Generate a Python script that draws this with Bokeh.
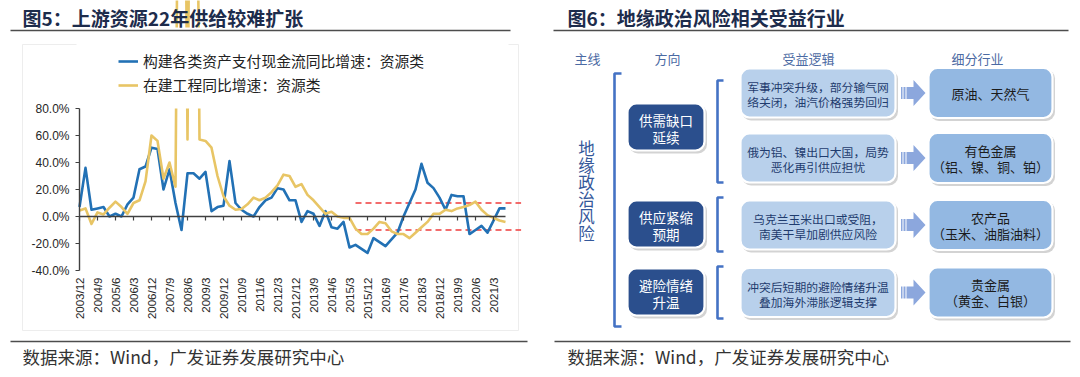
import numpy as np
from bokeh.plotting import figure
from bokeh.models import Range1d, LinearAxis, FixedTicker, Legend, LegendItem
from bokeh.core.properties import value
from bokeh.embed import file_html
from bokeh.resources import INLINE

CJK = "Noto Sans CJK SC"
LAT = "Liberation Sans"

# ---------------- data (left chart) ----------------
tick_labels = ["2003/12", "2004/9", "2005/6", "2006/3", "2006/12", "2007/9", "2008/6",
               "2009/3", "2009/12", "2010/9", "2011/6", "2012/3", "2012/12", "2013/9",
               "2014/6", "2015/3", "2015/12", "2016/9", "2017/6", "2018/3", "2018/12",
               "2019/9", "2020/6", "2021/3"]
tick_step = 3
series_cash = [7, 36, 5, 6, 7, 0, 2, 0, 9, 14, 35, 37, 51, 50, 20, 35, 10, -10, 32, 32,
               28, 33, 4, 7, 8, 41, 10, 5, 2, 0, 7, 12, 14, 21, 20, 12, 12, -4, 4, 2,
               -7, 4, -8, -9, -4, -23, -21, -24, -27, -16, -19, -22, -17, -12, 0, 10, 20, 39, 25, 21,
               14, 5, 16, 15, 15, -13, -10, -7, -12, -3, 6, 6]
series_cip = [4.5, 6, -5.5, 3, 1.5, 6.5, 11, 7, 2, 10, 12, 26, 60, 56, 28, 40, 22, 600, 57, 600,
              57, 56, 51, 30, 15, 8, 5, 5.5, 9, 14, 12, 14, 18, 23, 31, 30, 22, 24, 16, 12,
              7, 2, 3.5, 0, -1, -1, -9, -13, -13, -9, -4, -5, -11, -13, -13, -16, -12, -8, -4, 2,
              2, 5, 4, 6, 7, 8.5, 11, 5, 1, -1, -3, -4]
name_cash = "构建各类资产支付现金流同比增速：资源类"
name_cip = "在建工程同比增速：资源类"
band_levels = [10, -10]
band_start_index = 46  # 2015/6
y_ticks = [-40, -20, 0, 20, 40, 60, 80]
y_min, y_max = -40, 80

title5 = "图5：上游资源22年供给较难扩张"
title6 = "图6：地缘政治风险相关受益行业"
source_txt = "数据来源：Wind，广发证券发展研究中心"

# ---------------- data (right diagram) ----------------
headers = ["主线", "方向", "受益逻辑", "细分行业"]
mainline = "地缘政治风险"
directions = ["供需缺口\n延续", "供应紧缩\n预期", "避险情绪\n升温"]
logic = ["军事冲突升级，部分输气网\n络关闭，油汽价格强势回归",
         "俄为铝、镍出口大国，局势\n恶化再引供应担忧",
         "乌克兰玉米出口或受阻，\n南美干旱加剧供应风险",
         "冲突后短期的避险情绪升温\n叠加海外滞胀逻辑支撑"]
industries = ["原油、天然气", "有色金属\n（铝、镍、铜、铂）", "农产品\n（玉米、油脂油料）", "贵金属\n（黄金、白银）"]

# ---------------- canvas (page pixel coordinates) ----------------
W, H = 1072, 369
X0, Y0 = 0, 0
CH_L, CH_R, CH_T, CH_B = 79, 505, 108, 270   # chart plot area

n = len(series_cash)
kx = (n - 1) / (CH_R - CH_L)
ky = (y_max - y_min) / (CH_B - CH_T)
q_range = Range1d(0 - (CH_L - X0) * kx, (n - 1) + (X0 + W - CH_R) * kx)
pct_range = Range1d(y_min - (Y0 + H - CH_B) * ky, y_max + (CH_T - Y0) * ky)

p = figure(width=W, height=H, x_range=Range1d(X0, X0 + W), y_range=Range1d(Y0 + H, Y0),
           output_backend="svg", toolbar_location=None, tools="", min_border=0,
           x_axis_location=None, y_axis_location=None)
p.extra_x_ranges = {"q": q_range}
p.extra_y_ranges = {"pct": pct_range}
p.grid.visible = False
p.outline_line_color = None
p.background_fill_color = "white"
p.border_fill_color = "white"


def txt(x, y, s, size, color, align="left", bold=False, spacing=0):
    lines = s.split("\n")
    k = len(lines)
    ys = [y + (i - (k - 1) / 2) * spacing for i in range(k)]
    p.text(x=[x] * k, y=ys, text=lines, text_align=align, text_baseline="middle",
           text_font=value(CJK), text_font_size=value(size), text_color=color,
           text_font_style="bold" if bold else "normal")


# faint chart-area frame
p.quad(left=[22], right=[518], top=[44], bottom=[330], fill_color=None,
       line_color="#ededed", line_width=1)

# ---------------- left chart ----------------
xs = np.arange(n)
tick_pos = [i * tick_step for i in range(len(tick_labels))]
AX = "#404040"

ya = LinearAxis(x_range_name="q", y_range_name="pct", fixed_location=0, bounds=(y_min, y_max),
                ticker=FixedTicker(ticks=y_ticks),
                major_label_overrides={t: f"{t:.1f}%" for t in y_ticks},
                axis_line_color=AX, axis_line_width=1.4, major_tick_line_color=AX,
                major_tick_out=4, major_tick_in=0, minor_tick_line_color=None,
                major_label_standoff=6, major_label_text_font=LAT,
                major_label_text_font_size="12px", major_label_text_color="#262626")
p.add_layout(ya, "left")

xz = LinearAxis(x_range_name="q", y_range_name="pct", fixed_location=0, bounds=(0, n - 1),
                ticker=FixedTicker(ticks=tick_pos),
                axis_line_color=AX, axis_line_width=1.4, major_tick_line_color=AX,
                major_tick_line_width=1.2, major_tick_out=4, major_tick_in=0,
                minor_tick_line_color=None, major_label_text_font_size="1px",
                major_label_text_color=None, major_label_standoff=0)
p.add_layout(xz, "below")

xl = LinearAxis(x_range_name="q", y_range_name="pct", fixed_location=y_min, bounds=(0, n - 1),
                ticker=FixedTicker(ticks=tick_pos),
                major_label_overrides={t: l for t, l in zip(tick_pos, tick_labels)},
                major_label_orientation=np.pi / 2,
                axis_line_color=None, major_tick_line_color=None, minor_tick_line_color=None,
                major_tick_out=0, major_tick_in=0, major_label_standoff=7,
                major_label_text_font=LAT, major_label_text_font_size="11.5px",
                major_label_text_color="#262626")
p.add_layout(xl, "below")

p.segment(x0=[band_start_index] * 2, x1=[n + 1.6] * 2, y0=band_levels, y1=band_levels,
          x_range_name="q", y_range_name="pct",
          line_color="#f03c3c", line_width=1.6, line_dash="6 4")

r1 = p.line(xs, series_cash, x_range_name="q", y_range_name="pct",
            line_color="#2271b5", line_width=2.6, line_join="round")
r2 = p.line(xs, series_cip, x_range_name="q", y_range_name="pct",
            line_color="#e8c565", line_width=2.6, line_join="round")

# the plot area ends at the top of the value axis: hide what lies above it
p.quad(left=[-0.5], right=[n - 0.5], bottom=[y_max], top=[pct_range.end - 20],
       x_range_name="q", y_range_name="pct", fill_color="white", line_color=None)

legend = Legend(items=[LegendItem(label=name_cash, renderers=[r1]),
                       LegendItem(label=name_cip, renderers=[r2])],
                location=(118 - X0, (Y0 + H) - 95), padding=0, margin=0, spacing=3,
                glyph_width=20, glyph_height=20, label_height=20, label_standoff=5,
                label_text_font=CJK, label_text_font_size="14.8px", label_text_color="#222222",
                border_line_color=None, background_fill_alpha=0)
p.add_layout(legend)

# ---------------- titles, rules, sources ----------------
RULE = "#4d4d4d"
txt(22, 17, title5, "19px", "#1d2c4c", bold=True)
txt(567, 17, title6, "19px", "#1d2c4c", bold=True)
p.segment(x0=[10, 553], x1=[510, 1068], y0=[30, 30], y1=[30, 30], line_color=RULE, line_width=1.5)
p.segment(x0=[10, 554], x1=[527, 1070], y0=[341, 341], y1=[341, 341], line_color=RULE, line_width=1.5)
txt(22, 356, source_txt, "17.5px", "#333333")
txt(567, 356, source_txt, "17.5px", "#333333")

# ---------------- right diagram ----------------
hdr_x = [587, 667, 808, 977]
for hx, h in zip(hdr_x, headers):
    txt(hx, 58, h, "13px", "#4b6aa3", align="center")

txt(586, 189.5, "\n".join(mainline), "16.5px", "#34589a", align="center", spacing=17)

BR = "#4472c4"
p.multi_line(xs=[[621, 614, 614, 621]], ys=[[73, 73, 326, 326]], line_color=BR, line_width=2.6)
small_br = [(80, 182), (197, 251), (266, 318)]
p.multi_line(xs=[[723, 717, 717, 723] for _ in small_br],
             ys=[[a, a, b, b] for a, b in small_br], line_color=BR, line_width=2.6)


def boxes(l, r, cys, hh, fill):
    p.quad(left=[l + 1.5] * len(cys), right=[r + 2.5] * len(cys),
           top=[c - hh + 1.5 for c in cys], bottom=[c + hh + 3 for c in cys],
           fill_color="#9e9e9e", fill_alpha=0.45, line_color=None, border_radius=9)
    p.quad(left=[l] * len(cys), right=[r] * len(cys),
           top=[c - hh for c in cys], bottom=[c + hh for c in cys],
           fill_color=fill, line_color="white", line_width=2.2, border_radius=9)


dir_y = [126.5, 223.5, 291.5]
boxes(627, 704, dir_y, 23.5, "#2b4f8d")
for cy, s in zip(dir_y, directions):
    txt(665.5, cy + 1.5, s, "13.5px", "white", align="center", spacing=16.7)

row_y = [92.5, 157.5, 224.5, 292]
boxes(740, 895, row_y, 24.5, "#b8d0eb")
for cy, s in zip(row_y, logic):
    txt(817.5, cy + 1, s, "11.8px", "#1f3c6e", align="center", spacing=15)

boxes(928, 1052, row_y, 25, "#93b8e2")
for cy, s in zip(row_y, industries):
    txt(990, cy, s, "13px", "#1b1b1b", align="center", spacing=16)

AR = "#8ca7dd"
arr_x = [906, 913, 913, 925, 913, 913, 906]
p.patches(xs=[arr_x for _ in row_y],
          ys=[[c - 6, c - 6, c - 13, c, c + 13, c + 6, c + 6] for c in row_y],
          fill_color=AR, line_color=None)
p.quad(left=[900.5] * 4, right=[902] * 4, top=[c - 6 for c in row_y], bottom=[c + 6 for c in row_y],
       fill_color=AR, line_color=None)
p.quad(left=[903] * 4, right=[905] * 4, top=[c - 6 for c in row_y], bottom=[c + 6 for c in row_y],
       fill_color=AR, line_color=None)

open("out.html", "w").write(file_html(p, INLINE))
